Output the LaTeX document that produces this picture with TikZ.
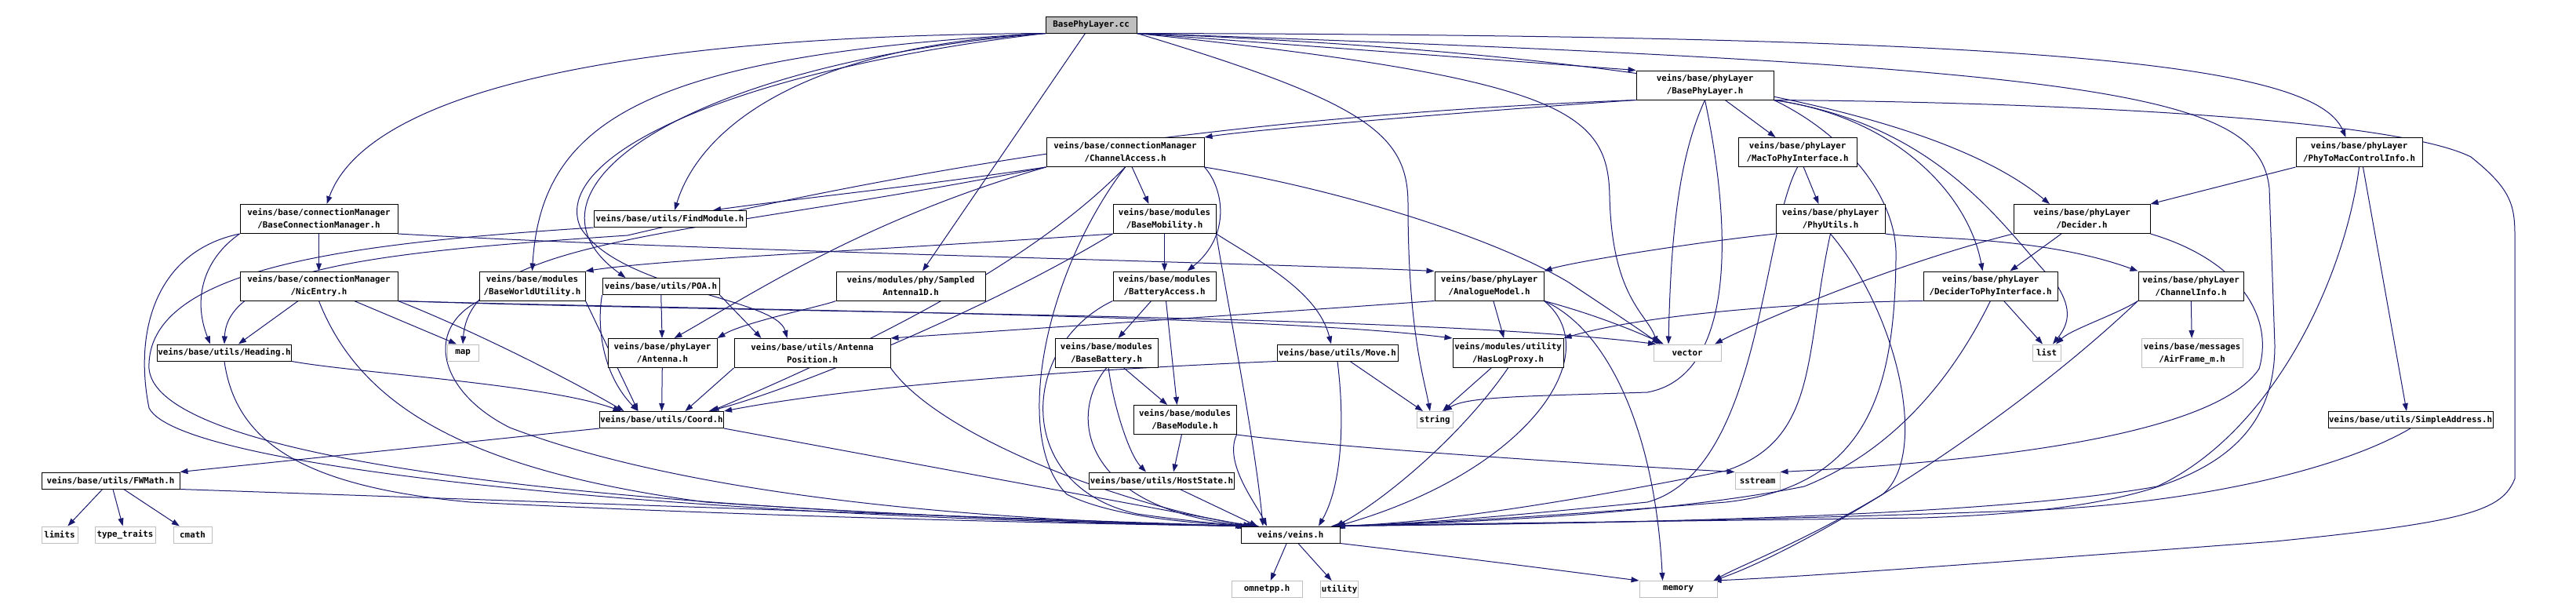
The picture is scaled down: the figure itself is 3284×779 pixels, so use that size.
\documentclass[tikz,border=0pt]{standalone}
\usepackage{fontspec}
\newfontfamily\graphfont{DejaVu Sans Mono}
\usetikzlibrary{arrows.meta,backgrounds}
\definecolor{edgeblue}{RGB}{25,25,112}
\definecolor{boxgray}{RGB}{191,191,191}

\begin{document}
\begin{tikzpicture}[
  x=1pt,y=-1pt,
  >={Triangle[length=10pt,width=7pt]},
  hdr/.style={draw=black,fill=white,line width=1pt,align=center,inner sep=1pt,
    minimum height=21pt,font=\graphfont\bfseries\fontsize{10.8}{16}\selectfont},
  tall/.style={minimum height=37pt},
  sys/.style={hdr,draw=boxgray},
  src/.style={hdr,fill=boxgray},
  dep/.style={->,draw=edgeblue,line width=1pt}
]
  \useasboundingbox (0,0) rectangle (3284,779);

  % source file
  \node[src,minimum width=116pt] (cc) at (1391,31.5) {BasePhyLayer.cc};

  % left part
  \node[hdr,tall,minimum width=201pt] (bcm) at (406.5,279) {veins/base/connectionManager\\/BaseConnectionManager.h};
  \node[hdr,tall,minimum width=201pt] (nic) at (406.5,364.5) {veins/base/connectionManager\\/NicEntry.h};
  \node[hdr,minimum width=170pt] (heading) at (286,449.5) {veins/base/utils/Heading.h};
  \node[hdr,minimum width=176pt] (fwmath) at (141,612.5) {veins/base/utils/FWMath.h};
  \node[sys,minimum width=46pt] (limits) at (76,681.5) {limits};
  \node[sys,minimum width=77pt] (typetraits) at (159.5,681.5) {type\_traits};
  \node[sys,minimum width=49pt] (cmath) at (245.5,681.5) {cmath};
  \node[hdr,tall,minimum width=135pt] (bwu) at (678.5,364.5) {veins/base/modules\\/BaseWorldUtility.h};
  \node[hdr,minimum width=194pt] (findmod) at (854,279) {veins/base/utils/FindModule.h};
  \node[hdr,minimum width=149pt] (poa) at (842.5,365) {veins/base/utils/POA.h};
  \node[sys,minimum width=40pt] (map) at (590,449.5) {map};
  \node[hdr,tall,minimum width=139pt] (antenna) at (844.5,450) {veins/base/phyLayer\\/Antenna.h};
  \node[hdr,tall,minimum width=199pt] (antpos) at (1035.5,450) {veins/base/utils/Antenna\\Position.h};
  \node[hdr,minimum width=157pt] (coord) at (843.5,535) {veins/base/utils/Coord.h};
  \node[hdr,tall,minimum width=190pt] (sampled) at (1161,364.5) {veins/modules/phy/Sampled\\Antenna1D.h};

  % middle part
  \node[hdr,tall,minimum width=201pt] (chacc) at (1434.5,194) {veins/base/connectionManager\\/ChannelAccess.h};
  \node[hdr,tall,minimum width=131pt] (basemob) at (1484.5,279) {veins/base/modules\\/BaseMobility.h};
  \node[hdr,tall,minimum width=131pt] (battacc) at (1484.5,364.5) {veins/base/modules\\/BatteryAccess.h};
  \node[hdr,tall,minimum width=131pt] (basebatt) at (1410.5,450) {veins/base/modules\\/BaseBattery.h};
  \node[hdr,tall,minimum width=131pt] (basemod) at (1510.5,535) {veins/base/modules\\/BaseModule.h};
  \node[hdr,minimum width=176pt] (hoststate) at (1481,612.5) {veins/base/utils/HostState.h};
  \node[hdr,minimum width=126pt] (veins) at (1645,681.5) {veins/veins.h};
  \node[sys,minimum width=90pt] (omnetpp) at (1615,751) {omnetpp.h};
  \node[sys,minimum width=48pt] (utility) at (1707.5,751) {utility};
  \node[sys,minimum width=99pt] (memory) at (2139.5,751) {memory};
  \node[hdr,minimum width=154pt] (move) at (1705,449.5) {veins/base/utils/Move.h};
  \node[sys,minimum width=46pt] (string) at (1829,535) {string};
  \node[hdr,tall,minimum width=141pt] (haslog) at (1922.5,450) {veins/modules/utility\\/HasLogProxy.h};
  \node[sys,minimum width=86pt] (vector) at (2151,449.5) {vector};
  \node[hdr,tall,minimum width=139pt] (analog) at (1898.5,364.5) {veins/base/phyLayer\\/AnalogueModel.h};

  % right part
  \node[hdr,tall,minimum width=175pt] (bphy) at (2173.5,108.5) {veins/base/phyLayer\\/BasePhyLayer.h};
  \node[hdr,tall,minimum width=151pt] (mac2phy) at (2291.5,194) {veins/base/phyLayer\\/MacToPhyInterface.h};
  \node[hdr,tall,minimum width=139pt] (phyutils) at (2333.5,279) {veins/base/phyLayer\\/PhyUtils.h};
  \node[hdr,tall,minimum width=174pt] (decider) at (2654,279) {veins/base/phyLayer\\/Decider.h};
  \node[hdr,tall,minimum width=171pt] (d2phy) at (2537.5,364.5) {veins/base/phyLayer\\/DeciderToPhyInterface.h};
  \node[hdr,tall,minimum width=134pt] (chinfo) at (2793,364.5) {veins/base/phyLayer\\/ChannelInfo.h};
  \node[hdr,tall,minimum width=161pt] (p2m) at (3007.5,194) {veins/base/phyLayer\\/PhyToMacControlInfo.h};
  \node[sys,minimum width=36pt] (list) at (2609,449.5) {list};
  \node[sys,tall,minimum width=129pt] (airframe) at (2794.5,450) {veins/base/messages\\/AirFrame\_m.h};
  \node[hdr,minimum width=202pt] (simpleaddr) at (3073,535) {veins/base/utils/SimpleAddress.h};
  \node[sys,minimum width=57pt] (sstream) at (2240.5,612.5) {sstream};

  \begin{scope}[on background layer]
  \fill[white] (0,0) rectangle (3284,779);

  % includes of the source file
  \draw[dep] (cc.south west) .. controls (700,46) and (460,140) .. ([xshift=10pt]bcm.north);
  \draw[dep] (cc.south west) .. controls (830,70) and (690,150) .. (bwu.north);
  \draw[dep] (cc.south west) .. controls (1010,60) and (890,170) .. ([xshift=6pt]findmod.north);
  \draw[dep] (cc.south west) .. controls (880,80) and (640,240) .. ([xshift=-45pt]poa.north);
  \draw[dep] (cc.south west) .. controls (930,90) and (700,200) .. (740,290)
    .. controls (790,370) and (990,380) .. ([xshift=-32pt]antpos.north);
  \draw[dep] (cc) -- ([xshift=15pt]sampled.north);
  \draw[dep] (cc.south east) -- (bphy.north west);
  \draw[dep] (cc.south east) .. controls (2150,70) and (2480,150) .. ([xshift=-41pt]decider.north);
  \draw[dep] (cc.south east) .. controls (2600,45) and (2950,80) .. ([xshift=-17pt]p2m.north);
  \draw[dep] (cc.south east) .. controls (1990,100) and (2050,140) .. (2052,250)
    .. controls (2055,380) and (2100,400) .. ([xshift=-38pt]vector.north);
  \draw[dep] (cc.south east) .. controls (1740,130) and (1795,170) .. (1795,260)
    .. controls (1795,420) and (1815,480) .. ([xshift=-6pt]string.north);
  \draw[dep] (cc.south east) .. controls (2700,85) and (2880,120) .. (2893,240) -- (2900,440)
    .. controls (2900,600) and (2750,650) .. (2450,660)
    .. controls (2000,666) and (1800,668) .. ([xshift=52pt]veins.north);

  % connection manager
  \draw[dep] (bcm) -- (nic);
  \draw[dep] (bcm.south west) .. controls (260,330) and (245,380) .. ([xshift=-18pt]heading.north);
  \draw[dep] (bcm.south west) .. controls (200,320) and (170,420) .. (190,520)
    .. controls (230,600) and (900,660) .. ([xshift=-58pt]veins.north);
  \draw[dep] (bcm.south east) .. controls (900,320) and (1600,335) .. (analog.north west);
  \draw[dep] (nic) -- ([xshift=18pt]heading.north);
  \draw[dep] (nic) -- ([xshift=-8pt]map.north);
  \draw[dep] (nic.south east) .. controls (600,420) and (720,480) .. ([xshift=-48pt]coord.north);
  \draw[dep] (nic.south) .. controls (460,520) and (600,600) .. (900,640)
    .. controls (1200,660) and (1450,668) .. ([xshift=-54pt]veins.north);
  \draw[dep] (nic.south east) .. controls (1000,400) and (1800,400) .. ([xshift=-40pt]vector.north);
  \draw[dep] (nic.south east) .. controls (900,395) and (1600,400) .. (haslog.north west);

  % utils
  \draw[dep] (heading.south east) .. controls (450,475) and (700,490) .. ([xshift=-52pt]coord.north);
  \draw[dep] (heading.south) .. controls (300,560) and (380,620) .. (600,640)
    .. controls (1000,660) and (1400,668) .. ([xshift=-56pt]veins.north);
  \draw[dep] (fwmath) -- (limits);
  \draw[dep] (fwmath) -- (typetraits);
  \draw[dep] (fwmath) -- (cmath);
  \draw[dep] (fwmath.south east) -- ([xshift=-60pt]veins.north);
  \draw[dep] (coord.south west) -- (fwmath.north east);
  \draw[dep] (coord.south east) -- ([xshift=-50pt]veins.north);
  \draw[dep] (bwu.south east) -- ([xshift=-30pt]coord.north);
  \draw[dep] (bwu.south west) .. controls (540,420) and (560,500) .. (650,545)
    .. controls (900,640) and (1300,665) .. ([xshift=-54pt]veins.north);
  \draw[dep] (findmod.south west) .. controls (450,310) and (185,340) .. (190,470)
    .. controls (200,580) and (700,650) .. ([xshift=-57pt]veins.north);
  \draw[dep] (poa) -- (antenna);
  \draw[dep] (poa.south east) -- ([xshift=-65pt]antpos.north);
  \draw[dep] (poa.south west) .. controls (760,420) and (770,480) .. ([xshift=-30pt]coord.north);
  \draw[dep] (antenna) -- (coord);
  \draw[dep] (antpos.south west) -- ([xshift=30pt]coord.north);
  \draw[dep] (antpos.south east) .. controls (1200,560) and (1450,650) .. ([xshift=-45pt]veins.north);
  \draw[dep] (sampled.south west) .. controls (1050,390) and (950,410) .. (antenna.north east);

  % channel access and modules
  \draw[dep] (chacc.south west) .. controls (1150,240) and (1000,255) .. ([xshift=55pt]findmod.north);
  \draw[dep] (chacc.south west) .. controls (1100,280) and (950,380) .. ([xshift=15pt]antenna.north);
  \draw[dep] (chacc.south west) .. controls (900,300) and (600,300) .. (map.north);
  \draw[dep] (chacc) -- ([xshift=-20pt]basemob.north);
  \draw[dep] (chacc.south east) .. controls (1560,240) and (1570,300) .. ([xshift=29pt]battacc.north);
  \draw[dep] (chacc.south) .. controls (1350,300) and (1200,400) .. ([xshift=63pt]coord.north);
  \draw[dep] (chacc.south) .. controls (1330,350) and (1290,560) .. (1360,630)
    .. controls (1420,660) and (1530,668) .. ([xshift=-40pt]veins.north);
  \draw[dep] (chacc.south east) .. controls (1700,240) and (1900,300) .. (2000,360)
    .. controls (2060,400) and (2090,420) .. ([xshift=-35pt]vector.north);
  \draw[dep] (basemob) -- (battacc);
  \draw[dep] (basemob.south east) .. controls (1600,330) and (1680,370) .. ([xshift=-8pt]move.north);
  \draw[dep] (basemob.south west) .. controls (1250,400) and (1000,500) .. ([xshift=60pt]coord.north);
  \draw[dep] (basemob.south east) .. controls (1560,360) and (1600,560) .. ([xshift=-35pt]veins.north);
  \draw[dep] (basemob.south west) .. controls (1100,320) and (850,330) .. (bwu.north east);
  \draw[dep] (battacc) -- ([xshift=15pt]basebatt.north);
  \draw[dep] (battacc) -- ([xshift=-10pt]basemod.north);
  \draw[dep] (battacc.south west) .. controls (1300,440) and (1290,620) .. (1450,655)
    .. controls (1520,665) and (1560,668) .. ([xshift=-45pt]veins.north);
  \draw[dep] (basebatt) -- (basemod);
  \draw[dep] (basebatt) .. controls (1420,520) and (1440,580) .. ([xshift=-20pt]hoststate.north);
  \draw[dep] (basebatt.south) .. controls (1360,530) and (1380,650) .. ([xshift=-48pt]veins.north);
  \draw[dep] (basemod) -- ([xshift=15pt]hoststate.north);
  \draw[dep] (basemod.south east) .. controls (1560,590) and (1600,640) .. ([xshift=-30pt]veins.north);
  \draw[dep] (basemod.south east) .. controls (1700,570) and (2000,590) .. (sstream.north west);
  \draw[dep] (hoststate) -- ([xshift=-42pt]veins.north);
  \draw[dep] (move.south west) .. controls (1400,470) and (1100,490) .. (coord.north east);
  \draw[dep] (move) -- ([xshift=-15pt]string.north);
  \draw[dep] (move.south) .. controls (1715,540) and (1710,620) .. ([xshift=36pt]veins.north);
  \draw[dep] (haslog) -- ([xshift=10pt]string.north);
  \draw[dep] (haslog.south) .. controls (1860,560) and (1760,640) .. ([xshift=58pt]veins.north);

  % physical layer
  \draw[dep] (analog.south west) .. controls (1600,400) and (1300,420) .. (antpos.north east);
  \draw[dep] (analog) -- (haslog);
  \draw[dep] (analog.south east) .. controls (2030,400) and (2080,420) .. ([xshift=-30pt]vector.north);
  \draw[dep] (analog.south east) .. controls (2050,450) and (1950,600) .. ([xshift=60pt]veins.north);
  \draw[dep] (analog.south east) .. controls (2050,420) and (2110,550) .. ([xshift=-20pt]memory.north);
  \draw[dep] (bphy.south west) .. controls (1900,140) and (1600,165) .. (chacc.north east);
  \draw[dep] (bphy.south west) .. controls (1500,150) and (1100,230) .. (800,300)
    .. controls (500,320) and (290,340) .. (heading.north);
  \draw[dep] (bphy) -- ([xshift=-28pt]mac2phy.north);
  \draw[dep] (bphy.south east) .. controls (2420,150) and (2510,250) .. ([xshift=-10pt]d2phy.north);
  \draw[dep] (bphy.south east) .. controls (2480,160) and (2560,300) .. (2620,360)
    .. controls (2640,390) and (2640,410) .. ([xshift=8pt]list.north);
  \draw[dep] (bphy.south) .. controls (2140,200) and (2130,300) .. ([xshift=-24pt]vector.north);
  \draw[dep] (bphy.south) .. controls (2210,300) and (2210,480) .. (2100,500)
    .. controls (1950,505) and (1870,505) .. ([xshift=12pt]string.north);
  \draw[dep] (bphy.south east) .. controls (2600,130) and (3050,150) .. (3150,200)
    .. controls (3200,240) and (3206,260) .. (3206,300) -- (3206,610)
    .. controls (3190,650) and (3150,665) .. (2900,690)
    .. controls (2500,720) and (2300,735) .. ([xshift=45pt]memory.north);
  \draw[dep] (bphy.south east) .. controls (2350,170) and (2420,250) .. (2417,330)
    .. controls (2415,500) and (2380,620) .. (2200,640)
    .. controls (1950,660) and (1800,668) .. ([xshift=56pt]veins.north);
  \draw[dep] (mac2phy) -- ([xshift=-15pt]phyutils.north);
  \draw[dep] (mac2phy.south) .. controls (2245,300) and (2245,600) .. (2100,640)
    .. controls (1900,660) and (1800,668) .. ([xshift=54pt]veins.north);
  \draw[dep] (phyutils.south west) .. controls (2150,310) and (2000,335) .. (analog.north east);
  \draw[dep] (phyutils.south east) .. controls (2450,305) and (2600,300) .. (chinfo.north west);
  \draw[dep] (phyutils.south) .. controls (2300,450) and (2320,560) .. (2200,600)
    .. controls (1950,650) and (1800,668) .. ([xshift=55pt]veins.north);
  \draw[dep] (phyutils.south) .. controls (2420,400) and (2460,580) .. (2400,630)
    .. controls (2300,690) and (2220,720) .. ([xshift=45pt]memory.north);
  \draw[dep] (decider) -- ([xshift=25pt]d2phy.north);
  \draw[dep] (decider.south west) .. controls (2400,340) and (2220,420) .. ([xshift=35pt]vector.north);
  \draw[dep] (decider.south east) .. controls (2850,330) and (2900,400) .. (2880,470)
    .. controls (2820,560) and (2500,590) .. (sstream.north east);
  \draw[dep] (d2phy) -- ([xshift=-5pt]list.north);
  \draw[dep] (d2phy.south west) .. controls (2300,385) and (2100,400) .. (haslog.north east);
  \draw[dep] (d2phy.south) .. controls (2480,500) and (2400,580) .. (2300,620)
    .. controls (2100,660) and (1800,668) .. ([xshift=57pt]veins.north);
  \draw[dep] (chinfo.south west) .. controls (2700,400) and (2640,420) .. ([xshift=12pt]list.north);
  \draw[dep] (chinfo) -- (airframe);
  \draw[dep] (chinfo.south west) .. controls (2550,550) and (2300,700) .. ([xshift=45pt]memory.north);
  \draw[dep] (p2m.south west) -- (decider.north east);
  \draw[dep] ([xshift=5pt]p2m.south) -- ([xshift=-5pt]simpleaddr.north);
  \draw[dep] (p2m.south) .. controls (2990,350) and (2900,550) .. (2750,620)
    .. controls (2500,665) and (1900,668) .. ([xshift=58pt]veins.north);
  \draw[dep] (simpleaddr.south) .. controls (2980,600) and (2800,640) .. (2600,650)
    .. controls (2200,665) and (1900,668) .. ([xshift=60pt]veins.north);

  % veins.h
  \draw[dep] (veins) -- (omnetpp);
  \draw[dep] (veins) -- (utility);
  \draw[dep] (veins.south east) .. controls (1900,715) and (2050,735) .. (memory.north west);
  \end{scope}
\end{tikzpicture}
\end{document}
